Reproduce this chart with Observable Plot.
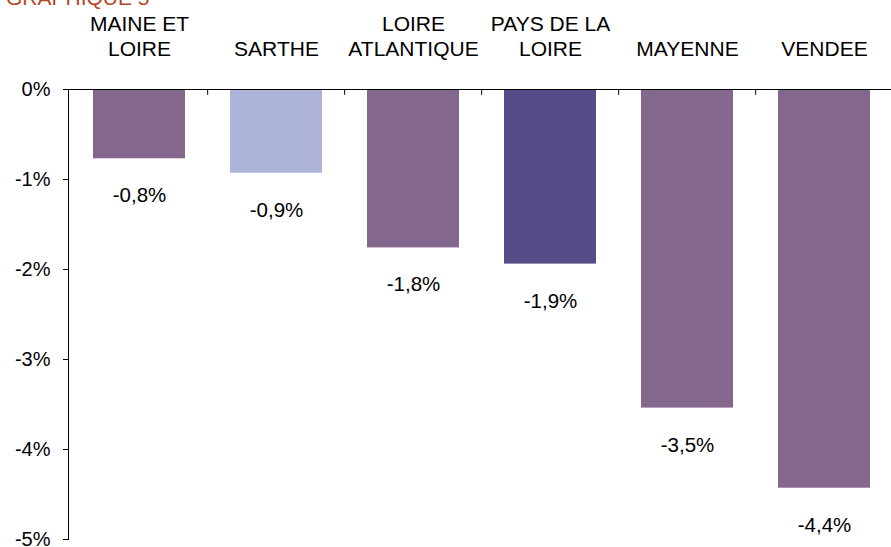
<!DOCTYPE html>
<html>
<head>
<meta charset="utf-8">
<script src="https://cdn.jsdelivr.net/npm/d3@7"></script>
<script src="https://cdn.jsdelivr.net/npm/@observablehq/plot@0.6"></script>
<style>
  html, body { margin: 0; padding: 0; background: #fff; overflow: hidden; }
  #wrap { position: relative; width: 891px; height: 547px; }
  #title { position: absolute; left: 6px; top: -13px; font: 21px "Liberation Sans", Arial, sans-serif; line-height: 21px; color: #B5461F; z-index: 2; white-space: nowrap; }
  #chart { position: absolute; left: 0; top: 0; }
</style>
</head>
<body>
<div id="wrap">
  <div id="title">GRAPHIQUE 5</div>
  <div id="chart"></div>
</div>
<script>
const categories = ["MAINE ET\nLOIRE", "SARTHE", "LOIRE\nATLANTIQUE", "PAYS DE LA\nLOIRE", "MAYENNE", "VENDEE"];
const values = [-0.77, -0.93, -1.76, -1.94, -3.54, -4.43];
const colors = ["#84678D", "#AEB3D9", "#84678D", "#544C86", "#84678D", "#84678D"];
const yTicks = [0, -1, -2, -3, -4, -5];

const data = categories.map((c, i) => ({category: c, value: values[i], color: colors[i], label: values[i].toFixed(1).replace(".", ",") + "%"}));

const width = 891, height = 547;
const marginLeft = 68, marginRight = -3;
const step = (width - marginLeft - marginRight) / categories.length;

const chart = Plot.plot({
  width, height,
  marginTop: 89, marginBottom: 8, marginLeft, marginRight,
  style: {fontFamily: "'Liberation Sans', Arial, sans-serif", fontSize: "20px", color: "#000", background: "transparent", overflow: "visible"},
  x: {domain: categories, padding: 0.33, paddingOuter: 0.165, align: 0.5},
  y: {domain: [-5, 0]},
  marks: [
    Plot.barY(data, {x: "category", y: "value", fill: "color"}),
    Plot.ruleY([0], {stroke: "#000", strokeWidth: 1}),
    Plot.ruleX(categories.slice(1), {x: d => d, y1: 0, y2: -0.065, dx: -step / 2, stroke: "#000"}),
    Plot.ruleX(categories.slice(-1), {x: d => d, y1: 0, y2: -0.065, dx: step / 2, stroke: "#000"}),
    Plot.frame({anchor: "left", stroke: "#000"}),
    Plot.axisY({ticks: yTicks, tickFormat: d => d + "%", tickSize: 5, tickPadding: 13, fontSize: 20, label: null}),
    Plot.axisX({anchor: "top", tickSize: 0, tickPadding: 34, fontSize: 21, label: null, lineHeight: 1.17}),
    Plot.text(data, {x: "category", y: "value", text: "label", dy: 37, fontSize: 20.5, fill: "#000"})
  ]
});
document.getElementById("chart").appendChild(chart);
</script>
</body>
</html>
